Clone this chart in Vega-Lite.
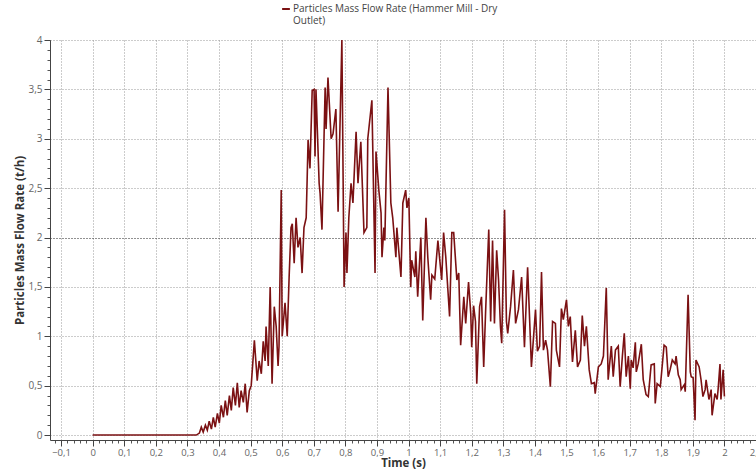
{
  "$schema": "https://vega.github.io/schema/vega-lite/v6.json",
  "width": 706,
  "height": 400,
  "autosize": {"type": "none"},
  "padding": {"left": 50, "top": 40, "right": 0, "bottom": 32},
  "background": "white",
  "config": {"font": "Open Sans", "view": {"stroke": null}},
  "data": {"values": [
    {"t":0,"v":0},{"t":0.328,"v":0},{"t":0.338,"v":0.02},{"t":0.344,"v":0.08},{"t":0.350,"v":0.03},{"t":0.357,"v":0.10},{"t":0.363,"v":0.05},{"t":0.369,"v":0.14},{"t":0.376,"v":0.06},{"t":0.382,"v":0.18},{"t":0.388,"v":0.08},{"t":0.395,"v":0.22},{"t":0.401,"v":0.12},{"t":0.407,"v":0.30},{"t":0.414,"v":0.18},{"t":0.420,"v":0.35},{"t":0.426,"v":0.20},{"t":0.433,"v":0.40},{"t":0.439,"v":0.25},{"t":0.445,"v":0.48},{"t":0.452,"v":0.30},{"t":0.458,"v":0.53},{"t":0.464,"v":0.28},{"t":0.470,"v":0.45},{"t":0.477,"v":0.33},{"t":0.483,"v":0.52},{"t":0.489,"v":0.23},{"t":0.496,"v":0.45},{"t":0.502,"v":0.50},{"t":0.512,"v":0.96},{"t":0.521,"v":0.55},{"t":0.527,"v":0.75},{"t":0.534,"v":0.62},{"t":0.540,"v":0.95},{"t":0.546,"v":0.75},{"t":0.549,"v":1.10},{"t":0.556,"v":0.70},{"t":0.562,"v":1.50},{"t":0.568,"v":0.52},{"t":0.575,"v":1.30},{"t":0.581,"v":1.10},{"t":0.587,"v":0.70},{"t":0.590,"v":0.90},{"t":0.597,"v":2.48},{"t":0.600,"v":1.00},{"t":0.609,"v":1.34},{"t":0.616,"v":1.00},{"t":0.622,"v":1.60},{"t":0.628,"v":2.10},{"t":0.632,"v":2.14},{"t":0.638,"v":1.74},{"t":0.644,"v":2.20},{"t":0.650,"v":1.90},{"t":0.657,"v":2.00},{"t":0.663,"v":1.64},{"t":0.669,"v":2.10},{"t":0.676,"v":2.20},{"t":0.679,"v":2.58},{"t":0.682,"v":2.99},{"t":0.688,"v":2.70},{"t":0.695,"v":3.49},{"t":0.701,"v":3.50},{"t":0.704,"v":2.82},{"t":0.707,"v":3.50},{"t":0.717,"v":2.55},{"t":0.720,"v":2.45},{"t":0.726,"v":2.08},{"t":0.736,"v":3.52},{"t":0.739,"v":3.10},{"t":0.745,"v":3.62},{"t":0.755,"v":3.00},{"t":0.761,"v":3.05},{"t":0.770,"v":3.30},{"t":0.777,"v":2.26},{"t":0.789,"v":4.00},{"t":0.796,"v":1.50},{"t":0.802,"v":2.05},{"t":0.805,"v":1.64},{"t":0.811,"v":2.20},{"t":0.818,"v":2.55},{"t":0.824,"v":2.35},{"t":0.834,"v":3.07},{"t":0.840,"v":2.55},{"t":0.849,"v":2.97},{"t":0.859,"v":2.05},{"t":0.868,"v":2.10},{"t":0.871,"v":3.00},{"t":0.884,"v":3.39},{"t":0.894,"v":1.64},{"t":0.897,"v":2.87},{"t":0.906,"v":2.48},{"t":0.913,"v":2.25},{"t":0.916,"v":1.80},{"t":0.922,"v":2.10},{"t":0.925,"v":1.97},{"t":0.935,"v":3.52},{"t":0.944,"v":2.35},{"t":0.950,"v":2.20},{"t":0.960,"v":1.80},{"t":0.963,"v":2.10},{"t":0.976,"v":1.60},{"t":0.982,"v":2.35},{"t":0.991,"v":2.48},{"t":0.995,"v":2.30},{"t":1.001,"v":2.40},{"t":1.007,"v":1.50},{"t":1.010,"v":1.77},{"t":1.020,"v":1.60},{"t":1.023,"v":1.86},{"t":1.029,"v":1.40},{"t":1.039,"v":2.00},{"t":1.045,"v":1.16},{"t":1.055,"v":2.20},{"t":1.061,"v":1.80},{"t":1.070,"v":1.37},{"t":1.074,"v":1.62},{"t":1.083,"v":1.58},{"t":1.093,"v":1.97},{"t":1.105,"v":1.57},{"t":1.111,"v":2.05},{"t":1.118,"v":1.80},{"t":1.130,"v":1.20},{"t":1.137,"v":2.05},{"t":1.143,"v":2.05},{"t":1.153,"v":1.57},{"t":1.159,"v":1.64},{"t":1.165,"v":0.91},{"t":1.175,"v":1.40},{"t":1.181,"v":1.13},{"t":1.190,"v":1.55},{"t":1.197,"v":1.23},{"t":1.200,"v":0.89},{"t":1.206,"v":1.31},{"t":1.212,"v":1.15},{"t":1.216,"v":0.52},{"t":1.225,"v":1.30},{"t":1.231,"v":1.40},{"t":1.238,"v":0.69},{"t":1.244,"v":1.25},{"t":1.254,"v":2.08},{"t":1.260,"v":1.15},{"t":1.266,"v":1.97},{"t":1.272,"v":1.13},{"t":1.279,"v":1.87},{"t":1.285,"v":1.57},{"t":1.291,"v":1.10},{"t":1.295,"v":0.93},{"t":1.304,"v":2.28},{"t":1.310,"v":1.15},{"t":1.314,"v":1.03},{"t":1.323,"v":1.30},{"t":1.332,"v":1.67},{"t":1.339,"v":1.13},{"t":1.348,"v":1.27},{"t":1.358,"v":1.60},{"t":1.367,"v":0.89},{"t":1.377,"v":1.70},{"t":1.386,"v":0.95},{"t":1.389,"v":0.69},{"t":1.402,"v":1.27},{"t":1.408,"v":0.85},{"t":1.415,"v":0.90},{"t":1.421,"v":1.65},{"t":1.427,"v":0.86},{"t":1.434,"v":0.96},{"t":1.440,"v":0.86},{"t":1.449,"v":0.49},{"t":1.456,"v":1.15},{"t":1.465,"v":1.13},{"t":1.468,"v":0.86},{"t":1.478,"v":0.69},{"t":1.484,"v":1.28},{"t":1.490,"v":1.17},{"t":1.500,"v":1.37},{"t":1.506,"v":1.10},{"t":1.512,"v":1.20},{"t":1.519,"v":0.74},{"t":1.528,"v":1.06},{"t":1.535,"v":0.69},{"t":1.544,"v":0.76},{"t":1.550,"v":1.21},{"t":1.557,"v":0.90},{"t":1.563,"v":1.10},{"t":1.572,"v":0.66},{"t":1.579,"v":0.52},{"t":1.588,"v":0.53},{"t":1.591,"v":0.42},{"t":1.601,"v":0.69},{"t":1.610,"v":0.72},{"t":1.617,"v":0.80},{"t":1.626,"v":1.49},{"t":1.632,"v":0.56},{"t":1.642,"v":0.90},{"t":1.648,"v":0.59},{"t":1.655,"v":0.86},{"t":1.664,"v":0.90},{"t":1.670,"v":0.49},{"t":1.677,"v":0.80},{"t":1.683,"v":1.03},{"t":1.689,"v":0.59},{"t":1.696,"v":0.80},{"t":1.702,"v":0.47},{"t":1.705,"v":0.76},{"t":1.711,"v":0.68},{"t":1.718,"v":0.94},{"t":1.721,"v":0.64},{"t":1.727,"v":0.72},{"t":1.737,"v":0.92},{"t":1.743,"v":0.56},{"t":1.752,"v":0.41},{"t":1.759,"v":0.39},{"t":1.768,"v":0.71},{"t":1.778,"v":0.72},{"t":1.781,"v":0.32},{"t":1.787,"v":0.52},{"t":1.797,"v":0.49},{"t":1.800,"v":0.59},{"t":1.809,"v":0.91},{"t":1.816,"v":0.89},{"t":1.822,"v":0.59},{"t":1.828,"v":0.66},{"t":1.835,"v":0.76},{"t":1.844,"v":0.72},{"t":1.847,"v":0.80},{"t":1.854,"v":0.61},{"t":1.860,"v":0.56},{"t":1.863,"v":0.46},{"t":1.873,"v":0.51},{"t":1.876,"v":0.44},{"t":1.885,"v":1.42},{"t":1.892,"v":0.64},{"t":1.895,"v":0.59},{"t":1.901,"v":0.58},{"t":1.907,"v":0.15},{"t":1.910,"v":0.76},{"t":1.920,"v":0.69},{"t":1.926,"v":0.56},{"t":1.932,"v":0.39},{"t":1.939,"v":0.46},{"t":1.942,"v":0.56},{"t":1.951,"v":0.36},{"t":1.958,"v":0.46},{"t":1.961,"v":0.20},{"t":1.970,"v":0.42},{"t":1.977,"v":0.36},{"t":1.980,"v":0.46},{"t":1.986,"v":0.72},{"t":1.989,"v":0.36},{"t":1.996,"v":0.66},{"t":2.000,"v":0.39}
  ]},
  "layer": [
    {
      "mark": {"type": "line", "strokeOpacity": 0},
      "encoding": {
        "x": {"field": "t", "type": "quantitative",
          "scale": {"domain": [-0.135, 2.1], "nice": false, "zero": false},
          "axis": {"orient": "bottom", "tickCount": 111, "labels": false, "domain": false, "grid": false, "tickSize": 3, "tickColor": "#555", "title": null}},
        "y": {"field": "v", "type": "quantitative",
          "scale": {"domain": [-0.05, 4], "nice": false, "zero": false},
          "axis": {"orient": "left", "tickCount": 40, "labels": false, "domain": false, "grid": false, "tickSize": 3, "tickColor": "#555", "title": null}}
      }
    },
    {
      "mark": {"type": "line", "strokeWidth": 1.6},
      "encoding": {
        "x": {"field": "t", "type": "quantitative",
          "scale": {"domain": [-0.135, 2.1], "nice": false, "zero": false},
          "axis": {"orient": "bottom", "values": [-0.1,0,0.1,0.2,0.3,0.4,0.5,0.6,0.7,0.8,0.9,1,1.1,1.2,1.3,1.4,1.5,1.6,1.7,1.8,1.9,2,2.1],
            "labelExpr": "replace(format(datum.value, '.1~f'), '.', ',')",
            "labelFlush": false, "labelOverlap": false, "labelBound": false,
            "labelColor": "#666", "labelFontSize": 9.5, "labelPadding": 1,
            "tickSize": 6, "tickColor": "#444", "domainColor": "#444",
            "grid": true, "gridDash": [1, 2], "gridColor": "#999", "gridWidth": 1,
            "title": "Time (s)", "titleFontSize": 11.5, "titleFontWeight": "bold", "titleColor": "#333", "titlePadding": 1}},
        "y": {"field": "v", "type": "quantitative",
          "scale": {"domain": [-0.05, 4], "nice": false, "zero": false},
          "axis": {"orient": "left", "values": [0,0.5,1,1.5,2,2.5,3,3.5,4],
            "labelExpr": "replace(format(datum.value, '.1~f'), '.', ',')",
            "labelColor": "#666", "labelFontSize": 10, "labelPadding": 2,
            "tickSize": 6, "tickColor": "#444", "domainColor": "#444",
            "grid": true, "gridDash": [1, 2], "gridWidth": 1,
            "gridColor": {"condition": {"test": "datum.value == 2", "value": "#222"}, "value": "#999"},
            "title": "Particles Mass Flow Rate (t/h)", "titleFontSize": 11.5, "titleFontWeight": "bold", "titleColor": "#333", "titlePadding": 2}},
        "color": {"datum": "Particles Mass Flow Rate (Hammer Mill - Dry Outlet)", "type": "nominal",
          "scale": {"range": ["#7b1113"]},
          "legend": {"orient": "none", "legendX": 231, "legendY": -36, "title": null,
            "symbolType": "stroke", "symbolSize": 60, "symbolStrokeWidth": 2,
            "labelExpr": "['Particles Mass Flow Rate (Hammer Mill - Dry', 'Outlet)']",
            "labelFontSize": 10, "labelColor": "#444", "labelLimit": 400, "labelOffset": 2, "labelLineHeight": 15}}
      }
    }
  ],
  "resolve": {"axis": {"x": "independent", "y": "independent"}}
}
